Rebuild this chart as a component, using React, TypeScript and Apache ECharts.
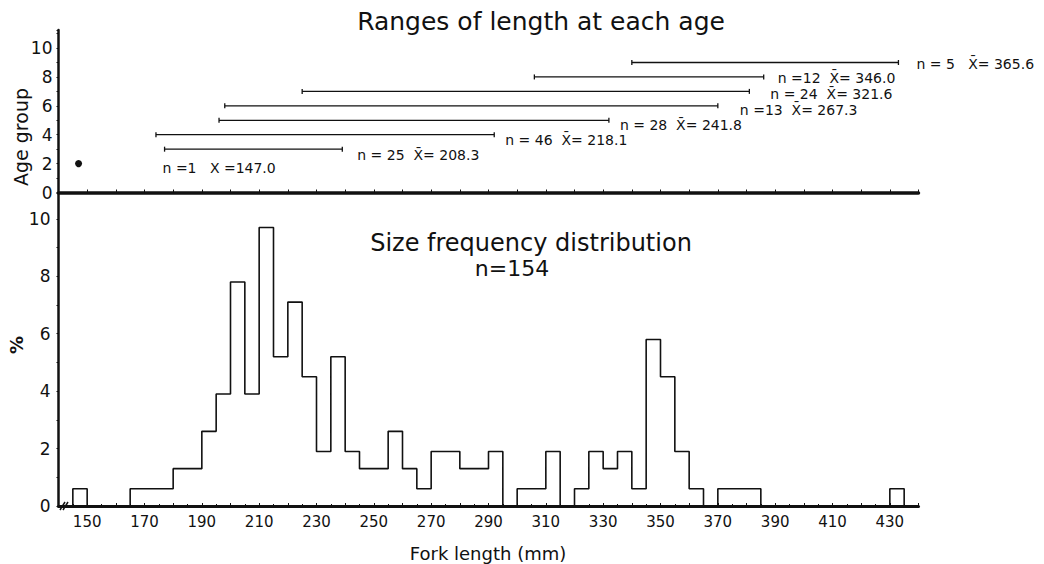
import React, { useEffect, useRef } from "react";
import * as echarts from "echarts";

// ---------- data ----------
// Size frequency distribution (percent of n = 154), 5 mm bins, left edges
const binLeftEdges = [
  145, 150, 155, 160, 165, 170, 175, 180, 185, 190, 195, 200, 205, 210, 215, 220, 225, 230, 235, 240,
  245, 250, 255, 260, 265, 270, 275, 280, 285, 290, 295, 300, 305, 310, 315, 320, 325, 330, 335, 340,
  345, 350, 355, 360, 365, 370, 375, 380, 385, 390, 395, 400, 405, 410, 415, 420, 425, 430,
];
const binPercent = [
  0.6, 0, 0, 0, 0.6, 0.6, 0.6, 1.3, 1.3, 2.6, 3.9, 7.8, 3.9, 9.7, 5.2, 7.1, 4.5, 1.9, 5.2, 1.9,
  1.3, 1.3, 2.6, 1.3, 0.6, 1.9, 1.9, 1.3, 1.3, 1.9, 0, 0.6, 0.6, 1.9, 0, 0.6, 1.9, 1.3, 1.9, 0.6,
  5.8, 4.5, 1.9, 0.6, 0, 0.6, 0.6, 0.6, 0, 0, 0, 0, 0, 0, 0, 0, 0, 0.6,
];
const BIN_WIDTH = 5;

// Ranges of length at each age
const ageGroup = [2, 3, 4, 5, 6, 7, 8, 9];
const ageMinLength = [147, 177, 174, 196, 198, 225, 306, 340];
const ageMaxLength = [147, 239, 292, 332, 370, 381, 386, 433];
const ageLabels = [
  "n =1   X =147.0",
  "n = 25  X\u0304= 208.3",
  "n = 46  X\u0304= 218.1",
  "n = 28  X\u0304= 241.8",
  "n =13  X\u0304= 267.3",
  "n = 24  X\u0304= 321.6",
  "n =12  X\u0304= 346.0",
  "n = 5   X\u0304= 365.6",
];

// tick labels
const ageTickLabels = [0, 2, 4, 6, 8, 10];
const percentTickLabels = [0, 2, 4, 6, 8, 10];
const lengthTickLabels = [150, 170, 190, 210, 230, 250, 270, 290, 310, 330, 350, 370, 390, 410, 430];

// ---------- layout / style (not data) ----------
const FONT = '"DejaVu Sans", "Noto Sans", sans-serif';
const labelDx = [84, 15, 11, 11, 22, 21, 14, 18];
const labelDy = [4, 6, 5, 5, 4, 3, 1, 1];

export default function App() {
  const ref = useRef<HTMLDivElement>(null);

  useEffect(() => {
    if (!ref.current) return;
    const chart = echarts.init(ref.current, undefined, { renderer: "svg" });

    const stepData: [number, number][] = [[binLeftEdges[0], 0]];
    binLeftEdges.forEach((e, i) => stepData.push([e, binPercent[i]]));
    stepData.push([binLeftEdges[binLeftEdges.length - 1] + BIN_WIDTH, 0]);

    const rangeData = ageGroup.map((a, i) => [ageMinLength[i], ageMaxLength[i], a]);

    const axisLabelStyle = { color: "#111", fontFamily: FONT };

    const centered = {
      fill: "#111",
      align: "center",
      verticalAlign: "middle",
      textAlign: "center",
      textVerticalAlign: "middle",
    };

    const option: any = {
      animation: false,
      backgroundColor: "#fff",
      grid: [
        { left: 58.5, top: 30, width: 860, height: 162.5 },
        { left: 58.5, top: 193, width: 860, height: 313 },
      ],
      xAxis: [
        {
          gridIndex: 0,
          type: "value",
          min: 140,
          max: 440,
          interval: 10,
          axisLine: { show: true, lineStyle: { color: "#111", width: 3.5 } },
          axisTick: { show: true, inside: true, length: 3, lineStyle: { color: "#111", width: 1 } },
          axisLabel: { show: false },
          splitLine: { show: false },
        },
        {
          gridIndex: 1,
          type: "value",
          min: 140,
          max: 440,
          interval: 10,
          axisLine: { show: true, onZero: false, lineStyle: { color: "#111", width: 3 } },
          axisTick: { show: true, inside: true, length: 3, lineStyle: { color: "#111", width: 1 } },
          minorTick: { show: true, splitNumber: 2, length: 2, lineStyle: { color: "#111", width: 1 } },
          axisLabel: {
            ...axisLabelStyle,
            fontSize: 15,
            margin: 8,
            formatter: (v: number) => (lengthTickLabels.includes(v) ? String(v) : ""),
          },
          splitLine: { show: false },
        },
      ],
      yAxis: [
        {
          gridIndex: 0,
          type: "value",
          min: 0,
          max: 11.25,
          interval: 2,
          axisLine: { show: true, lineStyle: { color: "#111", width: 2.5 } },
          axisTick: { show: true, length: 2, lineStyle: { color: "#111", width: 1 } },
          minorTick: { show: true, splitNumber: 2, length: 2, lineStyle: { color: "#111", width: 1 } },
          axisLabel: {
            ...axisLabelStyle,
            fontSize: 17,
            margin: 6,
            formatter: (v: number) => (ageTickLabels.includes(v) ? String(v) : ""),
          },
          splitLine: { show: false },
        },
        {
          gridIndex: 1,
          type: "value",
          min: 0,
          max: 10.9,
          interval: 2,
          axisLine: { show: true, lineStyle: { color: "#111", width: 2.5 } },
          axisTick: { show: true, length: 2, lineStyle: { color: "#111", width: 1 } },
          minorTick: { show: true, splitNumber: 2, length: 2, lineStyle: { color: "#111", width: 1 } },
          axisLabel: {
            ...axisLabelStyle,
            fontSize: 17,
            margin: 8,
            formatter: (v: number) => (percentTickLabels.includes(v) ? String(v) : ""),
          },
          splitLine: { show: false },
        },
      ],
      series: [
        {
          type: "custom",
          xAxisIndex: 0,
          yAxisIndex: 0,
          encode: { x: [0, 1], y: 2 },
          data: rangeData,
          clip: false,
          renderItem: (params: any, api: any) => {
            const i = params.dataIndex;
            const lo = api.value(0);
            const hi = api.value(1);
            const age = api.value(2);
            const p1 = api.coord([lo, age]);
            const p2 = api.coord([hi, age]);
            const children: any[] = [];
            if (hi === lo) {
              children.push({
                type: "circle",
                shape: { cx: p1[0], cy: p1[1], r: 3.5 },
                style: { fill: "#111" },
              });
            } else {
              const ls = { stroke: "#111", lineWidth: 1.3 };
              children.push({ type: "line", shape: { x1: p1[0], y1: p1[1], x2: p2[0], y2: p2[1] }, style: ls });
              children.push({ type: "line", shape: { x1: p1[0], y1: p1[1] - 2.5, x2: p1[0], y2: p1[1] + 2.5 }, style: ls });
              children.push({ type: "line", shape: { x1: p2[0], y1: p2[1] - 2.5, x2: p2[0], y2: p2[1] + 2.5 }, style: ls });
            }
            children.push({
              type: "text",
              x: p2[0] + labelDx[i],
              y: p2[1] + labelDy[i],
              style: {
                text: ageLabels[i],
                fill: "#111",
                font: `14px ${FONT}`,
                align: "left",
                verticalAlign: "middle",
                textAlign: "left",
                textVerticalAlign: "middle",
              },
            });
            return { type: "group", children };
          },
        },
        {
          type: "line",
          xAxisIndex: 1,
          yAxisIndex: 1,
          step: "end",
          symbol: "none",
          data: stepData,
          lineStyle: { color: "#111", width: 1.6 },
          silent: true,
        },
      ],
      graphic: [
        {
          type: "text",
          x: 541,
          y: 21,
          style: { ...centered, text: "Ranges of length at each age", font: `25px ${FONT}` },
        },
        {
          type: "text",
          x: 531,
          y: 243,
          style: { ...centered, text: "Size frequency distribution", font: `24px ${FONT}` },
        },
        {
          type: "text",
          x: 512,
          y: 268,
          style: { ...centered, text: "n=154", font: `22px ${FONT}` },
        },
        {
          type: "text",
          x: 21,
          y: 137,
          rotation: Math.PI / 2,
          style: { ...centered, text: "Age group", font: `19px ${FONT}` },
        },
        {
          type: "text",
          x: 16,
          y: 345,
          rotation: Math.PI / 2,
          style: { ...centered, text: "%", font: `bold 18px ${FONT}` },
        },
        {
          type: "text",
          x: 488,
          y: 553,
          style: { ...centered, text: "Fork length (mm)", font: `18px ${FONT}` },
        },
        {
          type: "line",
          shape: { x1: 60, y1: 510, x2: 65, y2: 502 },
          style: { stroke: "#111", lineWidth: 1.5 },
        },
        {
          type: "line",
          shape: { x1: 63, y1: 510, x2: 68, y2: 502 },
          style: { stroke: "#111", lineWidth: 1.5 },
        },
      ],
    };

    chart.setOption(option);
    return () => chart.dispose();
  }, []);

  return (
    <div
      ref={ref}
      style={{ position: "fixed", left: 0, top: 0, width: 1044, height: 564, background: "#fff" }}
    />
  );
}
